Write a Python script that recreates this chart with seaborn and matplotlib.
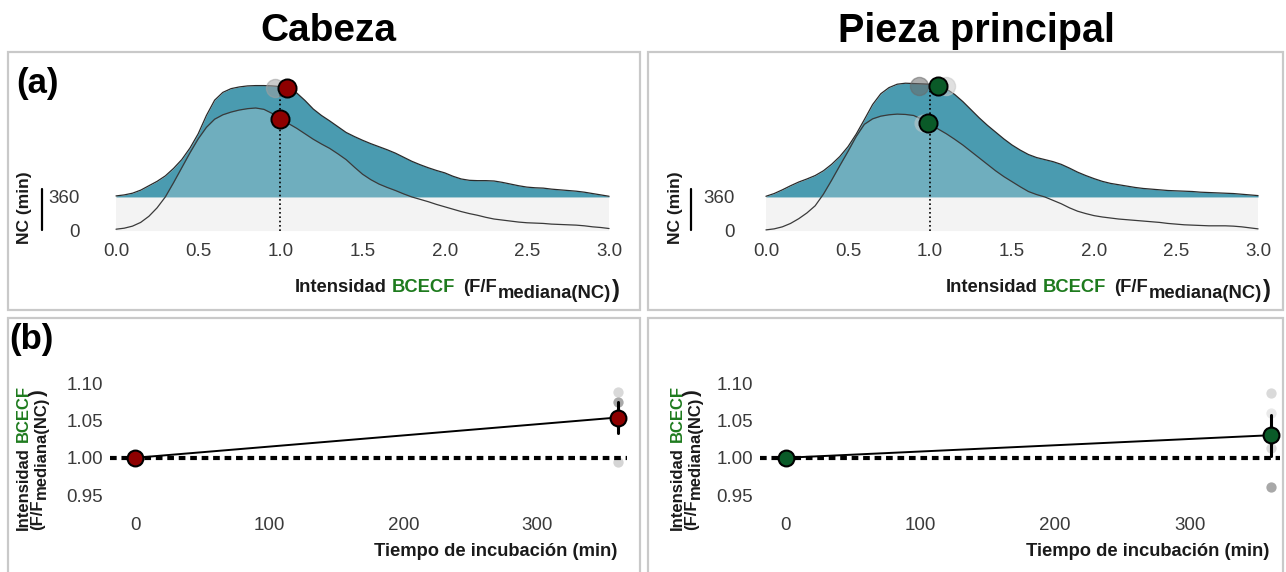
import numpy as np
import pandas as pd
import matplotlib
matplotlib.use("Agg")
import matplotlib.pyplot as plt
import seaborn as sns
from matplotlib.patches import Rectangle
from matplotlib.lines import Line2D

sns.set_theme(style="white")
plt.rcParams["font.family"] = ["Liberation Sans", "DejaVu Sans"]

W, H = 1286, 572

# ---------------- data ----------------
# intensity grid (F/F mediana(NC)) and ridge heights (scaled density)
intensidad = [0.00, 0.05, 0.10, 0.15, 0.20, 0.25, 0.30, 0.35, 0.40, 0.45,
              0.50, 0.55, 0.60, 0.65, 0.70, 0.75, 0.80, 0.85, 0.90, 0.95,
              1.00, 1.05, 1.10, 1.15, 1.20, 1.25, 1.30, 1.35, 1.40, 1.45,
              1.50, 1.55, 1.60, 1.65, 1.70, 1.75, 1.80, 1.85, 1.90, 1.95,
              2.00, 2.05, 2.10, 2.15, 2.20, 2.25, 2.30, 2.35, 2.40, 2.45,
              2.50, 2.55, 2.60, 2.65, 2.70, 2.75, 2.80, 2.85, 2.90, 2.95, 3.00]

cabeza_0 = [0.05, 0.08, 0.14, 0.25, 0.43, 0.68, 1.00, 1.42, 1.86, 2.30,
            2.71, 3.05, 3.29, 3.42, 3.50, 3.56, 3.60, 3.62, 3.58, 3.46,
            3.30, 3.16, 3.02, 2.86, 2.70, 2.56, 2.43, 2.27, 2.10, 1.88,
            1.67, 1.51, 1.38, 1.28, 1.19, 1.09, 1.00, 0.93, 0.86, 0.78,
            0.71, 0.64, 0.57, 0.51, 0.46, 0.40, 0.35, 0.32, 0.29, 0.26,
            0.24, 0.23, 0.22, 0.20, 0.19, 0.18, 0.17, 0.15, 0.12, 0.10, 0.07]
cabeza_360 = [0.03, 0.06, 0.11, 0.20, 0.33, 0.46, 0.62, 0.84, 1.10, 1.44,
              1.86, 2.40, 2.85, 3.08, 3.19, 3.24, 3.27, 3.28, 3.28, 3.27,
              3.25, 3.20, 3.06, 2.84, 2.59, 2.40, 2.24, 2.07, 1.90, 1.78,
              1.67, 1.57, 1.48, 1.39, 1.29, 1.17, 1.05, 0.95, 0.86, 0.78,
              0.71, 0.61, 0.53, 0.49, 0.48, 0.48, 0.47, 0.43, 0.38, 0.33,
              0.29, 0.27, 0.26, 0.23, 0.21, 0.19, 0.17, 0.14, 0.10, 0.06, 0.02]

pieza_0 = [0.03, 0.06, 0.12, 0.22, 0.36, 0.53, 0.74, 1.08, 1.49, 1.92,
           2.34, 2.78, 3.14, 3.30, 3.38, 3.42, 3.44, 3.43, 3.40, 3.29,
           3.14, 3.00, 2.86, 2.70, 2.53, 2.34, 2.15, 1.96, 1.77, 1.60,
           1.45, 1.30, 1.16, 1.07, 1.00, 0.90, 0.80, 0.68, 0.58, 0.51,
           0.45, 0.41, 0.38, 0.35, 0.33, 0.31, 0.29, 0.27, 0.25, 0.22,
           0.20, 0.18, 0.17, 0.16, 0.15, 0.15, 0.15, 0.14, 0.12, 0.09, 0.06]
pieza_360 = [0.02, 0.10, 0.21, 0.33, 0.44, 0.53, 0.63, 0.77, 0.96, 1.19,
             1.48, 1.85, 2.28, 2.72, 3.04, 3.22, 3.32, 3.35, 3.34, 3.33,
             3.32, 3.27, 3.18, 3.02, 2.81, 2.57, 2.33, 2.11, 1.91, 1.71,
             1.53, 1.38, 1.25, 1.16, 1.10, 1.04, 0.96, 0.85, 0.73, 0.63,
             0.54, 0.46, 0.40, 0.36, 0.32, 0.28, 0.25, 0.23, 0.21, 0.19,
             0.18, 0.17, 0.16, 0.14, 0.13, 0.12, 0.11, 0.10, 0.08, 0.06, 0.04]

# medians of the pooled data and of single replicates
cabeza_mediana = {"0": 1.00, "360": 1.04}
cabeza_rep_mediana_360 = [0.97]
cabeza_rep_mediana_0 = []
pieza_mediana = {"0": 0.99, "360": 1.05}
pieza_rep_mediana_360 = [0.93, 1.10]
pieza_rep_mediana_0 = [0.96]
gris_rep_cabeza = ["#a0a0a0"]
gris_rep_pieza = ["#6a6a6a", "#c8c8c8"]

# time course: replicate values at each incubation time
tiempo = [0, 360]
cabeza_rep = {0: [1.0, 1.0, 1.0, 1.0], 360: [1.088, 1.075, 1.058, 0.995]}
pieza_rep = {0: [1.0, 1.0, 1.0, 1.0], 360: [1.087, 1.060, 1.013, 0.961]}
gris_cabeza = ["#d9d9d9", "#a9a9a9", "#c4c4c4", "#d5d5d5"]
gris_pieza = ["#dadada", "#e9e9e9", "#dcdcdc", "#a8a8a8"]

ticks_intensidad = [0.0, 0.5, 1.0, 1.5, 2.0, 2.5, 3.0]
ticks_nc = ["0", "360"]
ticks_tiempo = [0, 100, 200, 300]
ticks_valor = [0.95, 1.00, 1.05, 1.10]

ROJO = "#8e0000"
VERDE = "#0a5a28"
VERDE_TXT = "#1e7b1e"
TEAL = "#4a9bb0"
TXT = "#1a1a1a"
TICK = "#3a3a3a"


def rect(x0, y0, x1, y1):
    return [x0 / W, 1 - y1 / H, (x1 - x0) / W, (y1 - y0) / H]


fig = plt.figure(figsize=(W / 100, H / 100), dpi=100)
fig.patch.set_facecolor("white")

# panel frames
for (x0, y0, x1, y1) in [(8, 52, 640, 310), (648, 52, 1283, 310),
                         (8, 318, 640, 580), (648, 318, 1283, 580)]:
    fig.add_artist(Rectangle((x0 / W, 1 - y1 / H), (x1 - x0) / W, (y1 - y0) / H,
                             transform=fig.transFigure, fill=False,
                             edgecolor="#c9c9c9", linewidth=1.6))


def style_axes(ax):
    for s in ax.spines.values():
        s.set_visible(False)
    ax.grid(False)
    ax.set_facecolor("none")
    ax.tick_params(axis="both", length=3, width=0.8, color="#d0d0d0",
                   labelsize=13.5, labelcolor=TICK, pad=2)
    ax.set_xlabel("")
    ax.set_ylabel("")


def ridge_panel(ax, d0, d360, med, rep_med_360, rep_med_0, grises, color, xmin):
    x = np.array(intensidad)
    d0 = np.array(d0)
    d360 = np.array(d360)
    # background band between the two baselines
    ax.fill_between([0, 3], 0, 1, color="#f3f3f3", linewidth=0, zorder=0)
    # 360 min ridge
    ax.fill_between(x, 1, 1 + d360, color=TEAL, linewidth=0, zorder=1)
    sns.lineplot(x=x, y=1 + d360, color="#2a2a2a", linewidth=0.9, ax=ax, zorder=2)
    # 0 min ridge (drawn in front)
    ax.fill_between(x, 0, d0, color="#f4f4f4", alpha=0.22, linewidth=0, zorder=3)
    sns.lineplot(x=x, y=d0, color="#3a3a3a", linewidth=0.9, ax=ax, zorder=4)

    y360 = 1 + np.interp(med["360"], x, d360)
    y0 = np.interp(med["0"], x, d0)
    ax.vlines(1.0, 0, y360, colors="black", linestyles=(0, (1, 1.6)),
              linewidth=1.2, zorder=5)
    for xv, g in zip(rep_med_360, grises):
        sns.scatterplot(x=[xv], y=[y360], color=g, alpha=0.55, s=170,
                        edgecolor=g, linewidth=1.0, ax=ax, zorder=6, legend=False)
    for xv in rep_med_0:
        sns.scatterplot(x=[xv], y=[y0], color="#cccccc", alpha=0.5, s=170,
                        linewidth=0, ax=ax, zorder=6, legend=False)
    sns.scatterplot(x=[med["360"], med["0"]], y=[y360, y0], color=color, s=170,
                    edgecolor="black", linewidth=1.4, ax=ax, zorder=7, legend=False)

    ax.set_xlim(xmin, 3.03)
    ax.set_ylim(-0.15, 4.68)
    ax.set_xticks(ticks_intensidad)
    ax.set_xticklabels([f"{t:.1f}" for t in ticks_intensidad])
    ax.set_yticks([0, 1])
    ax.set_yticklabels(ticks_nc)
    style_axes(ax)


def time_panel(ax, rep, grises, color):
    filas = []
    for t in tiempo:
        for i, v in enumerate(rep[t]):
            filas.append({"tiempo": t, "valor": v, "replica": i})
    df = pd.DataFrame(filas)
    # replicate points
    for i, g in enumerate(grises):
        sub = df[(df.replica == i) & (df.tiempo == 360)]
        sns.scatterplot(data=sub, x="tiempo", y="valor", color=g, s=55,
                        linewidth=0, ax=ax, zorder=1, legend=False)
    ax.axhline(1.0, color="black", linewidth=3, linestyle=(0, (1.6, 1.15)), zorder=2)
    sns.lineplot(data=df, x="tiempo", y="valor", errorbar="se", err_style="bars",
                 color="black", linewidth=1.4, err_kws={"elinewidth": 2.2},
                 ax=ax, zorder=3)
    medias = df.groupby("tiempo", as_index=False)["valor"].mean()
    sns.scatterplot(data=medias, x="tiempo", y="valor", color=color, s=130,
                    edgecolor="black", linewidth=1.5, ax=ax, zorder=5, legend=False)
    ax.set_xlim(-19, 367)
    ax.set_ylim(0.93, 1.115)
    ax.set_xticks(ticks_tiempo)
    ax.set_xticklabels([str(t) for t in ticks_tiempo])
    ax.set_yticks(ticks_valor)
    ax.set_yticklabels([f"{v:.2f}" for v in ticks_valor])
    style_axes(ax)


ax_tl = fig.add_axes(rect(87, 72, 614, 236))
ax_tr = fig.add_axes(rect(742, 72, 1263, 236))
ax_bl = fig.add_axes(rect(110, 372, 627, 510))
ax_br = fig.add_axes(rect(760, 372, 1280, 510))

ridge_panel(ax_tl, cabeza_0, cabeza_360, cabeza_mediana,
            cabeza_rep_mediana_360, cabeza_rep_mediana_0, gris_rep_cabeza, ROJO,
            -0.1765)
ridge_panel(ax_tr, pieza_0, pieza_360, pieza_mediana,
            pieza_rep_mediana_360, pieza_rep_mediana_0, gris_rep_pieza, VERDE,
            -0.146)
time_panel(ax_bl, cabeza_rep, gris_cabeza, ROJO)
time_panel(ax_br, pieza_rep, gris_pieza, VERDE)

# ---------------- text ----------------
fig.text(328 / W, 1 - 31 / H, "Cabeza", ha="center", va="center",
         fontsize=28, fontweight="bold", color="black")
fig.text(976 / W, 1 - 31 / H, "Pieza principal", ha="center", va="center",
         fontsize=28.5, fontweight="bold", color="black")
fig.text(16 / W, 1 - 84 / H, "(a)", ha="left", va="center",
         fontsize=25, fontweight="bold", color="black")
fig.text(9 / W, 1 - 340 / H, "(b)", ha="left", va="center",
         fontsize=25, fontweight="bold", color="black")

LAB = 13.2


def xlabel_intensidad(ax, x_px, y_px):
    t1 = fig.text(x_px / W, 1 - y_px / H, "Intensidad", fontsize=LAB,
                  fontweight="bold", color=TXT, ha="left", va="baseline")
    t2 = ax.annotate("BCECF", xy=(1, 0), xycoords=t1, xytext=(3.5, 0),
                     textcoords="offset points", fontsize=LAB, fontweight="bold",
                     color=VERDE_TXT, ha="left", va="bottom", annotation_clip=False)
    t3 = ax.annotate("(F/F", xy=(1, 0), xycoords=t2, xytext=(6, 0),
                     textcoords="offset points", fontsize=LAB, fontweight="bold",
                     color=TXT, ha="left", va="bottom", annotation_clip=False)
    t4 = ax.annotate("mediana(NC)", xy=(1, 0), xycoords=t3, xytext=(0.3, -4),
                     textcoords="offset points", fontsize=LAB, fontweight="bold",
                     color=TXT, ha="left", va="bottom", annotation_clip=False)
    ax.annotate(")", xy=(1, 0), xycoords=t4, xytext=(0.3, 0),
                textcoords="offset points", fontsize=LAB * 1.3, fontweight="bold",
                color=TXT, ha="left", va="bottom", annotation_clip=False)


xlabel_intensidad(ax_tl, 295, 292)
xlabel_intensidad(ax_tr, 946, 292)

fig.text(617 / W, 1 - 556 / H, "Tiempo de incubación (min)", fontsize=LAB,
         fontweight="bold", color=TXT, ha="right", va="baseline")
fig.text(1269 / W, 1 - 556 / H, "Tiempo de incubación (min)", fontsize=LAB,
         fontweight="bold", color=TXT, ha="right", va="baseline")

# NC (min) axis title with its bar
YL = 12.5
for xc, xbar in [(25, 42), (675, 691)]:
    fig.text(xc / W, 1 - 208 / H, "NC (min)", rotation=90, fontsize=YL,
             fontweight="bold", color=TXT, ha="center", va="center")
    fig.add_artist(Line2D([xbar / W, xbar / W], [1 - 189 / H, 1 - 230 / H],
                          transform=fig.transFigure, color="black", linewidth=1.6))

# two-line axis title of the time panels
YB = 12
for ax, x1, x2 in [(ax_bl, 23, 38), (ax_br, 677, 692)]:
    a1 = fig.text(x1 / W, 1 - 530 / H, "Intensidad", rotation=90, fontsize=YB,
                  fontweight="bold", color=TXT, ha="center", va="bottom")
    ax.annotate("BCECF", xy=(0.5, 1), xycoords=a1, xytext=(0, 3.5),
                textcoords="offset points", rotation=90, fontsize=YB,
                fontweight="bold", color=VERDE_TXT, ha="center", va="bottom",
                annotation_clip=False)
    b1 = fig.text(x2 / W, 1 - 530 / H, "(F/F", rotation=90, fontsize=YB,
                  fontweight="bold", color=TXT, ha="center", va="bottom")
    b2 = ax.annotate("mediana(NC)", xy=(0.5, 1), xycoords=b1, xytext=(2.5, 0.5),
                     textcoords="offset points", rotation=90, fontsize=YB,
                     fontweight="bold", color=TXT, ha="center", va="bottom",
                     annotation_clip=False)
    ax.annotate(")", xy=(0.5, 1), xycoords=b2, xytext=(-2.5, 0.5),
                textcoords="offset points", rotation=90, fontsize=YB * 1.2,
                fontweight="bold", color=TXT, ha="center", va="bottom",
                annotation_clip=False)

fig.savefig("out.png", dpi=100, facecolor="white")
